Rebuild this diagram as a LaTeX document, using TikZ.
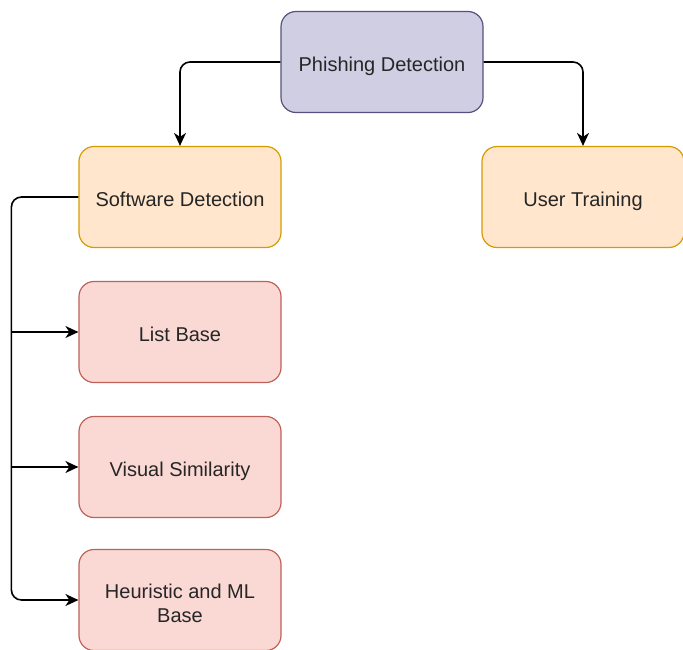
\documentclass[tikz,border=0pt]{standalone}
\usepackage{xcolor}
\usepackage{fontspec}
\setmainfont{Liberation Sans}
\usepackage{tikz}
\usetikzlibrary{positioning, arrows.meta}
\definecolor{rootfill}{HTML}{D0CEE2}
\definecolor{rootline}{HTML}{56517E}
\definecolor{mainfill}{HTML}{FFE6CC}
\definecolor{mainline}{HTML}{D79B00}
\definecolor{subfill}{HTML}{FAD9D5}
\definecolor{subline}{HTML}{C0605A}
\tikzset{
	>={Stealth[length=13pt, width=12pt, inset=4pt]}, % makes the arrow heads bold
	node distance=135pt, % distance between two rows of boxes
	box/.style={rounded corners=15pt, line width=1.2pt, minimum width=202pt, minimum height=101pt, align=center, text=black!85, text height=19pt, text depth=0pt, font=\fontsize{20}{24}\selectfont}, % sets the properties for each box
	rootbox/.style={box, draw=rootline, fill=rootfill},
	mainbox/.style={box, draw=mainline, fill=mainfill},
	subbox/.style={box, draw=subline, fill=subfill},
	link/.style={->, line width=1.6pt, rounded corners=10pt},
}
\begin{document}
\begin{tikzpicture}[on grid]
			\useasboundingbox (0,0) rectangle (683pt,-649pt);
			% Define boxes
			\node[rootbox] (phish) at (382pt,-62pt) {Phishing Detection};
			\node[mainbox, below left=135pt and 202pt of phish] (soft) {Software Detection};
			\node[mainbox, below right=135pt and 201pt of phish] (user) {User Training};
			\node[subbox, below=of soft] (list) {List Base};
			\node[subbox, below=of list] (visual) {Visual Similarity};
			\node[subbox, below=133pt of visual, text height=45pt] (heur) {Heuristic and ML\\Base};
			\coordinate[left=67pt of soft.west] (bend);
			
			% Connectors
			\draw[link] (phish.west) -| (soft.north);
			\draw[link] (phish.east) -| (user.north);
			\draw[link] (soft.west) -- (bend) |- (heur.west);
			\draw[link] (bend |- list.west) -- (list.west);
			\draw[link] (bend |- visual.west) -- (visual.west);
		\end{tikzpicture}
\end{document}
